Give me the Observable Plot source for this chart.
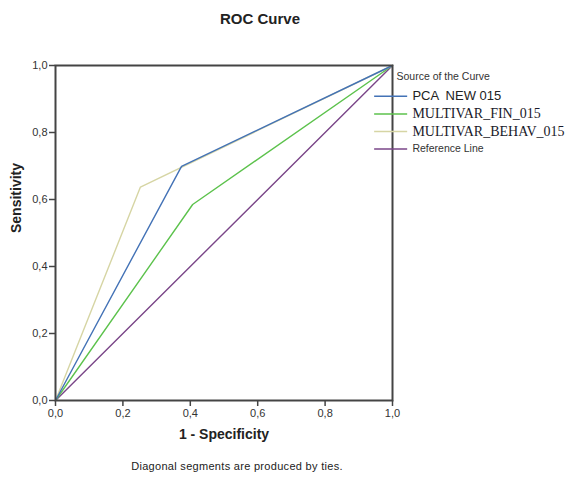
<!DOCTYPE html>
<html>
<head>
<meta charset="utf-8">
<script src="https://cdn.jsdelivr.net/npm/d3@7"></script>
<script src="https://cdn.jsdelivr.net/npm/@observablehq/plot@0.6"></script>
<style>
  body { margin: 0; background: #fff; font-family: "Liberation Sans", Arial, sans-serif; }
  #wrap { position: relative; width: 581px; height: 479px; }
  #title { position: absolute; left: 0; top: 10px; width: 520px; text-align: center; font-weight: bold; font-size: 15px; color: #222; }
  #caption { position: absolute; left: 0; top: 460px; width: 474px; text-align: center; font-size: 11px; letter-spacing: 0.3px; color: #222; }
</style>
</head>
<body>
<div id="wrap">
  <div id="chart"></div>
  <div id="title">ROC Curve</div>
  <div id="caption">Diagonal segments are produced by ties.</div>
</div>
<script>
// ---- data ----
const seriesNames = ["PCA_NEW_015", "MULTIVAR_FIN_015", "MULTIVAR_BEHAV_015", "Reference Line"];
const pcaX   = [0, 0.374, 1];
const pcaY   = [0, 0.699, 1];
const finX   = [0, 0.407, 1];
const finY   = [0, 0.585, 1];
const behavX = [0, 0.252, 1];
const behavY = [0, 0.637, 1];
const refX   = [0, 1];
const refY   = [0, 1];
const tickValues = [0, 0.2, 0.4, 0.6, 0.8, 1.0];
const legendLabels = ["PCA  NEW 015", "MULTIVAR_FIN_015", "MULTIVAR_BEHAV_015", "Reference Line"];
const colors = ["#4372b6", "#5cc24c", "#d6d5a4", "#7a4688"];

const toPts = (xs, ys, s) => xs.map((x, i) => ({x, y: ys[i], s}));
const curves = [
  toPts(refX, refY, seriesNames[3]),
  toPts(finX, finY, seriesNames[1]),
  toPts(behavX, behavY, seriesNames[2]),
  toPts(pcaX, pcaY, seriesNames[0])
].flat();
const colorOf = Object.fromEntries(seriesNames.map((n, i) => [n, colors[i]]));

const fmt = d => d3.format(".1f")(d).replace(".", ",");

// legend layout (data units of the plot scales)
const legY0 = 0.908, legStep = 0.0525;
const legend = legendLabels.map((label, i) => ({
  label, color: colors[i], y: legY0 - i * legStep,
  serif: i === 1 || i === 2, small: i === 3
}));

const plot = Plot.plot({
  width: 581,
  height: 479,
  marginLeft: 55,
  marginRight: 189,
  marginTop: 65,
  marginBottom: 79,
  style: { fontFamily: "Liberation Sans, Arial, sans-serif", fontSize: "11px", color: "#333", background: "white", overflow: "visible" },
  x: { domain: [0, 1], ticks: tickValues, tickFormat: fmt, tickSize: 6, tickPadding: 3, label: null },
  y: { domain: [0, 1], ticks: tickValues, tickFormat: fmt, tickSize: 6, tickPadding: 2, label: null },
  marks: [
    Plot.line(curves, { x: "x", y: "y", z: "s", stroke: d => colorOf[d.s], strokeWidth: 1.4 }),
    Plot.frame({ stroke: "#444", strokeWidth: 2 }),
    Plot.axisX({ ticks: tickValues, tickFormat: fmt, tickSize: 6, tickPadding: 3, stroke: "#444", strokeWidth: 1.5, fill: "#333", label: null }),
    Plot.axisY({ ticks: tickValues, tickFormat: fmt, tickSize: 6, tickPadding: 2, stroke: "#444", strokeWidth: 1.5, fill: "#333", label: null }),
    // axis titles
    Plot.text(["1 - Specificity"], { frameAnchor: "bottom", dy: 38, fontWeight: "bold", fontSize: 14, fill: "#222" }),
    Plot.text(["Sensitivity"], { frameAnchor: "left", dx: -39, rotate: -90, fontWeight: "bold", fontSize: 14, fill: "#222" }),
    // legend
    Plot.text(["Source of the Curve"], { frameAnchor: "top-right", dx: 4, dy: 7, textAnchor: "start", fontSize: 10.5, fill: "#333" }),
    Plot.ruleY(legend, { y: "y", x1: 0.947, x2: 1.045, stroke: "color", strokeWidth: 1.5 }),
    Plot.text(legend.filter(d => !d.serif && !d.small), { x: 1.059, y: "y", text: "label", textAnchor: "start", fontSize: 13, fill: "#222" }),
    Plot.text(legend.filter(d => d.serif), { x: 1.059, y: "y", text: "label", textAnchor: "start", fontSize: 14, fontFamily: "Liberation Serif, Times New Roman, serif", fill: "#1a1a2a" }),
    Plot.text(legend.filter(d => d.small), { x: 1.059, y: "y", text: "label", textAnchor: "start", fontSize: 10.5, fill: "#333" })
  ]
});
document.getElementById("chart").appendChild(plot);
</script>
</body>
</html>
